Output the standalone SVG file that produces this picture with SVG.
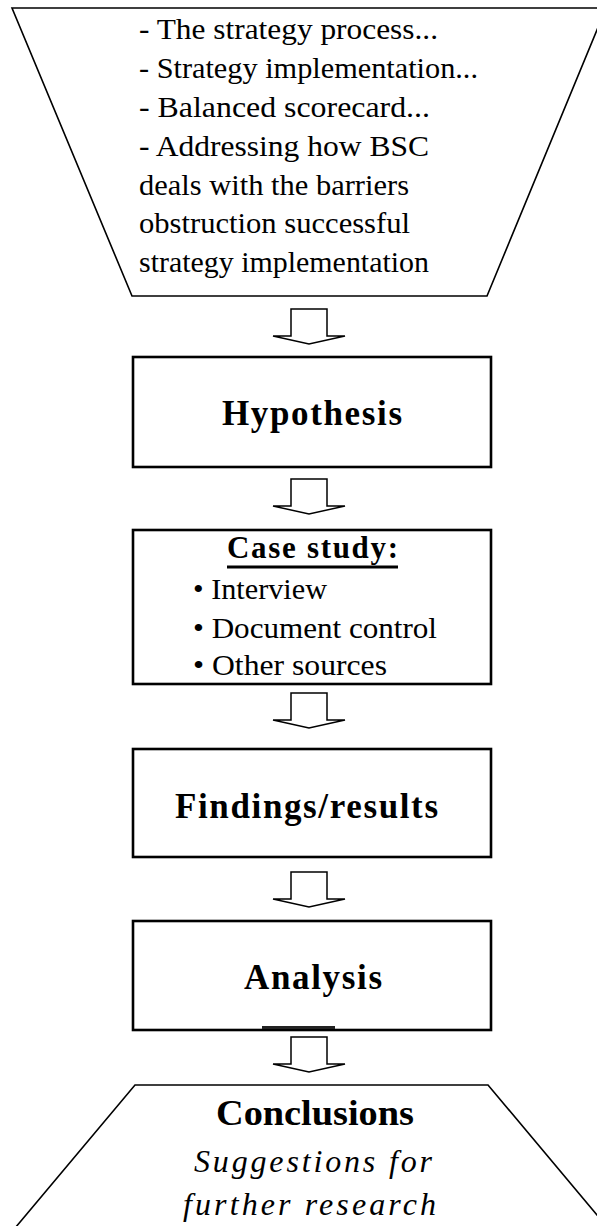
<svg xmlns="http://www.w3.org/2000/svg" width="597" height="1226" viewBox="0 0 597 1226">
  <style>
    .bg { fill: #ffffff; }
    .funnel { fill: #ffffff; stroke: #000000; stroke-width: 1.6; stroke-linejoin: miter; }
    .box { fill: #ffffff; stroke: #000000; stroke-width: 2.6; }
    .arrow { fill: #ffffff; stroke: #000000; stroke-width: 1.5; stroke-linejoin: miter; }
    .body { font-family: "Liberation Serif", "Times New Roman", serif; font-size: 30px; fill: #000000; }
    .head { font-family: "Liberation Serif", "Times New Roman", serif; font-size: 35px; font-weight: bold; fill: #000000; }
    .ital { font-family: "Liberation Serif", "Times New Roman", serif; font-size: 32px; font-style: italic; fill: #000000; }
  </style>
  <defs>
    <!-- hollow block arrow, origin at top-left of the stem -->
    <path id="blockArrow" class="arrow" d="M0,0 H36 V27 H54 L18,35 L-18,27 H0 Z"/>
  </defs>

  <rect class="bg" x="0" y="0" width="597" height="1226"/>

  <!-- literature funnel -->
  <g id="funnel-top">
    <polygon class="funnel" points="12,8 606,8 487,296 132,296"/>
    <text class="body" x="139" y="39" textLength="299" lengthAdjust="spacingAndGlyphs">- The strategy process...</text>
    <text class="body" x="139" y="78" textLength="339" lengthAdjust="spacingAndGlyphs">- Strategy implementation...</text>
    <text class="body" x="139" y="117" textLength="291" lengthAdjust="spacingAndGlyphs">- Balanced scorecard...</text>
    <text class="body" x="139" y="156" textLength="290" lengthAdjust="spacingAndGlyphs">- Addressing how BSC</text>
    <text class="body" x="139" y="195" textLength="270" lengthAdjust="spacingAndGlyphs">deals with the barriers</text>
    <text class="body" x="139" y="233" textLength="271" lengthAdjust="spacingAndGlyphs">obstruction successful</text>
    <text class="body" x="139" y="272" textLength="290" lengthAdjust="spacingAndGlyphs">strategy implementation</text>
  </g>

  <g id="hypothesis">
    <rect class="box" x="133" y="357" width="358" height="110"/>
    <text class="head" x="222" y="425" textLength="180" lengthAdjust="spacing">Hypothesis</text>
  </g>

  <g id="case-study">
    <rect class="box" x="133" y="530" width="358" height="154"/>
    <text class="head" x="227" y="558" textLength="171" lengthAdjust="spacing" style="font-size:31px">Case study:</text>
    <line x1="227" y1="567" x2="398" y2="567" stroke="#000000" stroke-width="3"/>
    <text class="body" x="193" y="599" textLength="134" lengthAdjust="spacingAndGlyphs">• Interview</text>
    <text class="body" x="193" y="638" textLength="244" lengthAdjust="spacingAndGlyphs">• Document control</text>
    <text class="body" x="193" y="675" textLength="194" lengthAdjust="spacingAndGlyphs">• Other sources</text>
  </g>

  <g id="findings">
    <rect class="box" x="133" y="749" width="358" height="108"/>
    <text class="head" x="175" y="818" textLength="263" lengthAdjust="spacing">Findings/results</text>
  </g>

  <g id="analysis">
    <rect class="box" x="133" y="921" width="358" height="109"/>
    <text class="head" x="244" y="989" textLength="138" lengthAdjust="spacing">Analysis</text>
    <line x1="262" y1="1027.5" x2="335" y2="1027.5" stroke="#222222" stroke-width="3"/>
  </g>

  <!-- outcome funnel, open at the page bottom -->
  <g id="conclusions">
    <polygon class="funnel" points="135,1085 488,1085 618,1240 5,1240"/>
    <text class="head" x="216" y="1125" textLength="198" lengthAdjust="spacingAndGlyphs" style="font-size:36px">Conclusions</text>
    <text class="ital" x="194" y="1172" textLength="238" lengthAdjust="spacing">Suggestions for</text>
    <text class="ital" x="183" y="1215" textLength="253" lengthAdjust="spacing">further research</text>
  </g>

  <g id="connectors">
    <use href="#blockArrow" x="291" y="309"/>
    <use href="#blockArrow" x="291" y="479"/>
    <use href="#blockArrow" x="291" y="693"/>
    <use href="#blockArrow" x="291" y="872"/>
    <use href="#blockArrow" x="291" y="1037"/>
  </g>
</svg>
